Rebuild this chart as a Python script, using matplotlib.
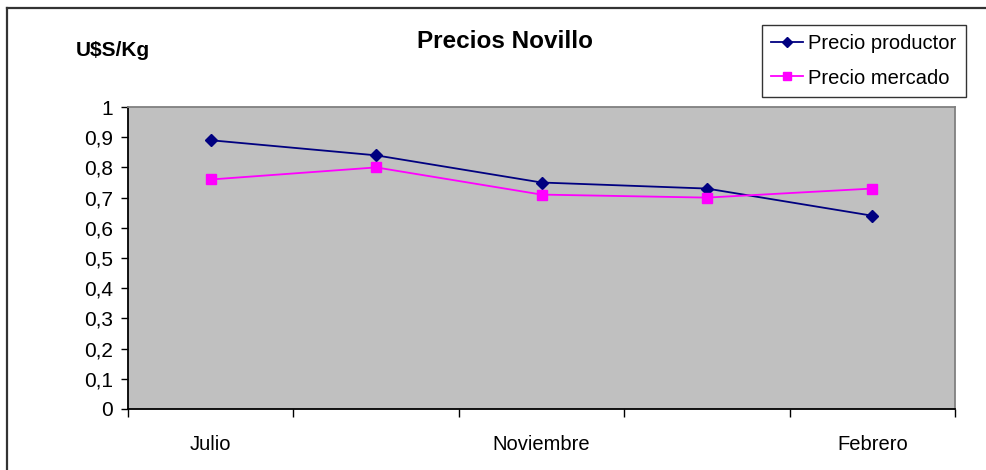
import numpy as np
import matplotlib.pyplot as plt
from matplotlib.lines import Line2D

plt.rcParams['font.family'] = ['Liberation Sans', 'DejaVu Sans']

# Datos
meses = ["Julio", "", "Noviembre", "", "Febrero"]
precio_productor = [0.89, 0.84, 0.75, 0.73, 0.64]
precio_mercado = [0.76, 0.80, 0.71, 0.70, 0.73]
valores_y = [0, 0.1, 0.2, 0.3, 0.4, 0.5, 0.6, 0.7, 0.8, 0.9, 1]

x = np.arange(len(meses))

fig = plt.figure(figsize=(9.87, 4.70), dpi=100)
ax = fig.add_axes([0.1297, 0.1298, 0.8379, 0.6425])
ax.set_facecolor('#c0c0c0')

ax.plot(x, precio_productor, color='#000080', lw=1.3, marker='D', ms=6,
        label='Precio productor')
ax.plot(x, precio_mercado, color='#ff00ff', lw=1.3, marker='s', ms=6.5,
        label='Precio mercado')

ax.set_xlim(-0.5, len(meses) - 0.5)
ax.set_ylim(0, 1)

# eje y con coma decimal
ax.set_yticks(valores_y)
ax.set_yticklabels([('%g' % v).replace('.', ',') for v in valores_y], fontsize=15)
ax.tick_params(axis='y', direction='out', length=5, width=1, pad=6)

# marcas del eje x entre categorías, nombres en el centro
ax.set_xticks(np.arange(-0.5, len(meses), 1.0))
ax.set_xticklabels([])
ax.set_xticks(x, minor=True)
ax.set_xticklabels(meses, minor=True, fontsize=14.5)
ax.tick_params(axis='x', which='major', direction='out', length=6, width=1)
ax.tick_params(axis='x', which='minor', length=0, pad=19)

for s in ['left', 'bottom']:
    ax.spines[s].set_color('black')
    ax.spines[s].set_linewidth(1.3)
for s in ['top', 'right']:
    ax.spines[s].set_color('#808080')
    ax.spines[s].set_linewidth(1.3)

fig.text(505 / 987, 1 - 42 / 470, 'Precios Novillo', fontsize=17.5, fontweight='bold',
         ha='center', va='center')
fig.text(113 / 987, 1 - 51 / 470, 'U$S/Kg', fontsize=15, fontweight='bold',
         ha='center', va='center')

leg = fig.legend(loc='upper left', bbox_to_anchor=(762 / 987, 1 - 25 / 470),
                 fontsize=14.5, frameon=True, fancybox=False, edgecolor='black',
                 handlelength=1.6, handletextpad=0.25, labelspacing=0.75,
                 borderpad=0.45, borderaxespad=0, handleheight=0.9,
                 markerscale=0.8)
leg.get_frame().set_linewidth(1)

# marco exterior del gráfico
fig.add_artist(Line2D([7 / 987, 7 / 987], [0, 1 - 8 / 470], color='#333333',
                      lw=1.6, transform=fig.transFigure))
fig.add_artist(Line2D([7 / 987, 1], [1 - 8 / 470, 1 - 8 / 470], color='#333333',
                      lw=1.6, transform=fig.transFigure))

fig.savefig('out.png', dpi=100)
